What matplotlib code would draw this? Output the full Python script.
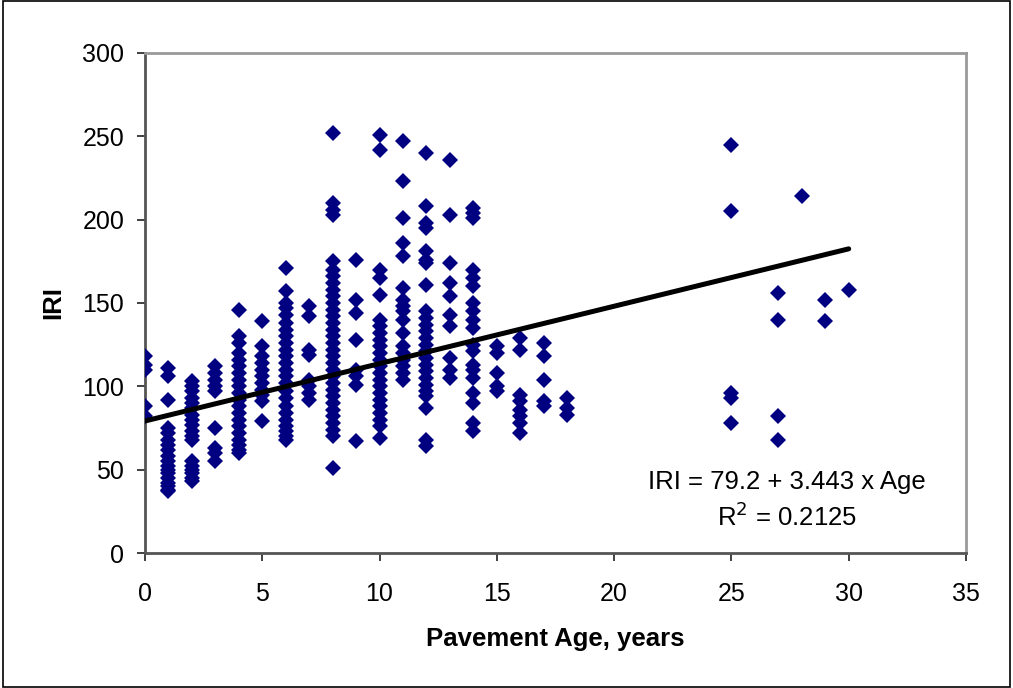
import numpy as np
import matplotlib.pyplot as plt
from matplotlib.patches import Rectangle

plt.rcParams['font.family'] = ['Liberation Sans', 'DejaVu Sans']

# IRI readings grouped by pavement age (years)
iri_by_age = {
    0: [118, 113, 110, 88, 82],
    1: [111, 106, 92, 75, 72, 68, 65, 62, 58, 55, 52, 50, 48, 45, 42, 40, 38, 37],
    2: [103, 100, 97, 93, 90, 87, 83, 80, 77, 73, 70, 68, 55, 52, 50, 48, 45, 43],
    3: [112, 108, 104, 100, 97, 75, 63, 60, 55],
    4: [146, 130, 126, 120, 116, 112, 108, 104, 100, 96, 92, 88, 84, 80, 76, 72,
        68, 65, 62, 60],
    5: [139, 124, 118, 114, 110, 106, 102, 98, 95, 91, 79],
    6: [171, 157, 150, 147, 143, 138, 134, 130, 126, 122, 118, 114, 110, 106, 102,
        97, 93, 88, 84, 80, 76, 73, 70, 68],
    7: [148, 142, 122, 119, 104, 100, 96, 92],
    8: [252, 210, 206, 203, 175, 170, 166, 162, 158, 154, 150, 146, 142, 138, 134,
        130, 126, 122, 118, 114, 110, 106, 102, 98, 94, 90, 86, 82, 78, 74, 70, 51],
    9: [176, 152, 144, 128, 110, 106, 101, 67],
    10: [251, 242, 170, 165, 155, 140, 136, 132, 128, 124, 120, 116, 112, 108, 104,
         100, 96, 92, 88, 84, 80, 76, 69],
    11: [247, 223, 201, 186, 178, 159, 152, 148, 145, 140, 132, 124, 120, 116, 112,
         108, 104],
    12: [240, 208, 198, 195, 181, 176, 174, 161, 145, 141, 137, 133, 129, 125, 121,
         117, 113, 109, 105, 101, 97, 94, 87, 68, 64],
    13: [236, 203, 174, 162, 154, 143, 136, 117, 110, 105],
    14: [207, 204, 201, 170, 165, 160, 150, 145, 140, 135, 125, 121, 113, 110, 105,
         96, 90, 78, 73],
    15: [124, 120, 108, 100, 97],
    16: [129, 122, 95, 91, 86, 82, 78, 72],
    17: [126, 118, 104, 91, 88],
    18: [93, 87, 83],
    25: [245, 205, 96, 93, 78],
    27: [156, 140, 82, 68],
    28: [214],
    29: [152, 139],
    30: [158],
}

ages = np.concatenate([[a] * len(v) for a, v in iri_by_age.items()])
iri = np.concatenate(list(iri_by_age.values()))

# trendline reported on the chart
intercept = 79.2
slope = 3.443
trend_x = np.array([0, 30])

fig = plt.figure(figsize=(10.13, 6.88), dpi=100)
ax = fig.add_axes([0.1431, 0.1962, 0.8105, 0.7268])

ax.plot(ages, iri, 'D', color='#000080', markersize=8.3, markeredgewidth=0, zorder=3)
ax.plot(trend_x, intercept + slope * trend_x, color='black', linewidth=3.6,
        solid_capstyle='round', zorder=4)

ax.set_xlim(0, 35)
ax.set_ylim(0, 300)
ax.set_xticks(np.arange(0, 36, 5))
ax.set_yticks(np.arange(0, 301, 50))
ax.tick_params(labelsize=18, length=6, width=1.2, direction='out', color='#202020')
ax.tick_params(axis='y', pad=9)
ax.tick_params(axis='x', pad=15)

for s in ['top', 'right']:
    ax.spines[s].set_color('#999999')
    ax.spines[s].set_linewidth(2)
for s in ['left', 'bottom']:
    ax.spines[s].set_color('#555555')
    ax.spines[s].set_linewidth(2)

ax.set_xlabel('Pavement Age, years', fontsize=18.5, fontweight='bold')
ax.set_ylabel('IRI', fontsize=18.5, fontweight='bold')
ax.xaxis.set_label_coords(0.5, -0.148)
ax.yaxis.set_label_coords(-0.097, 0.5)

ax.text(0.782, 0.142, 'IRI = 79.2 + 3.443 x Age', transform=ax.transAxes,
        ha='center', va='center', fontsize=18.5)
ax.text(0.782, 0.072, 'R$^2$ = 0.2125', transform=ax.transAxes,
        ha='center', va='center', fontsize=18.5)

fig.patches.append(Rectangle((0.003, 0.002), 0.994, 0.996, transform=fig.transFigure,
                             fill=False, edgecolor='black', linewidth=1.2))

fig.savefig('out.png', dpi=100)
